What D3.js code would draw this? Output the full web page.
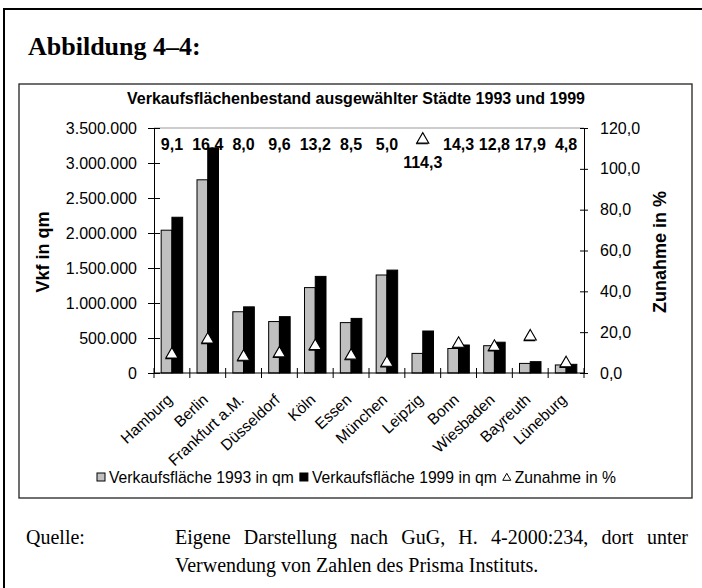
<!DOCTYPE html>
<html>
	<head>
		<meta charset="utf-8">
		<title>Abbildung 4-4</title>
		<script type="text/javascript" src="https://cdn.jsdelivr.net/npm/d3@7"></script>
		<style>
			body{margin:0;background:#fff;overflow:hidden;}
			svg{display:block;}
		</style>
	</head>
	<body>
		<script type="text/javascript">
			var categories=["Hamburg","Berlin","Frankfurt a.M.","Düsseldorf","Köln","Essen",
							"München","Leipzig","Bonn","Wiesbaden","Bayreuth","Lüneburg"];
			var vkf1993=[2040000,2760000,875000,735000,1220000,720000,1400000,280000,350000,390000,137000,115000];
			var vkf1999=[2225000,3215000,945000,805000,1380000,780000,1470000,600000,400000,440000,162000,124000];
			var zunahme=[9.1,16.4,8.0,9.6,13.2,8.5,5.0,114.3,14.3,12.8,17.9,4.8];
			var seriesNames=["Verkaufsfläche 1993 in qm","Verkaufsfläche 1999 in qm","Zunahme in %"];
			var leftTicks=[0,500000,1000000,1500000,2000000,2500000,3000000,3500000];
			var rightTicks=[0,20,40,60,80,100,120];

			var w=702;
			var h=588;
			var plot={left:154,right:584,top:128,bottom:373};

			var de=d3.formatLocale({decimal:",",thousands:".",grouping:[3],currency:["","€"]});
			var fmtQm=de.format(",d");
			var fmtPct=de.format(",.1f");

			var svg=d3.select('body').append('svg')
					  .attr('width',w)
					  .attr('height',h)
					  .style('font-family','Arial, "Liberation Sans", sans-serif');

			// outer page frame (only left/top visible)
			svg.append('rect')
			   .attr('x',4).attr('y',9)
			   .attr('width',740).attr('height',640)
			   .attr('fill','none').attr('stroke','#000').attr('stroke-width',2);

			svg.append('text')
			   .text('Abbildung 4–4:')
			   .attr('x',28).attr('y',55)
			   .attr('font-family','"Liberation Serif","Times New Roman",serif')
			   .attr('font-weight','bold')
			   .attr('font-size','26px');

			// chart box
			svg.append('rect')
			   .attr('x',19).attr('y',84)
			   .attr('width',673).attr('height',414)
			   .attr('fill','#fff').attr('stroke','#222').attr('stroke-width',1.3);

			svg.append('text')
			   .text('Verkaufsflächenbestand ausgewählter Städte 1993 und 1999')
			   .attr('x',356).attr('y',104)
			   .attr('text-anchor','middle')
			   .attr('font-weight','bold')
			   .attr('font-size','16px');

			var x0=d3.scaleBand()
					 .domain(categories)
					 .range([plot.left,plot.right])
					 .paddingInner(0.4)
					 .paddingOuter(0.2);
			var x1=d3.scaleBand()
					 .domain(['a','b'])
					 .range([0,x0.bandwidth()]);
			var yScale=d3.scaleLinear()
						 .domain([0,3500000])
						 .range([plot.bottom,plot.top]);
			var rScale=d3.scaleLinear()
						 .domain([0,120])
						 .range([plot.bottom,plot.top]);
			function center(c){
				return x0(c)+x0.bandwidth()/2;
			}

			// plot area top border
			svg.append('line')
			   .attr('x1',plot.left).attr('x2',plot.right)
			   .attr('y1',plot.top).attr('y2',plot.top)
			   .attr('stroke','#999').attr('stroke-width',1);

			// bars
			var rows=categories.map(function(c,i){
				return {cat:c,a:vkf1993[i],b:vkf1999[i],p:zunahme[i]};
			});
			svg.selectAll('rect.g93')
			   .data(rows)
			   .enter()
			   .append('rect')
			   .attr('class','g93')
			   .attr('x',function(d){return x0(d.cat)+x1('a');})
			   .attr('y',function(d){return yScale(d.a);})
			   .attr('width',x1.bandwidth())
			   .attr('height',function(d){return yScale(0)-yScale(d.a);})
			   .attr('fill','#c0c0c0')
			   .attr('stroke','#000')
			   .attr('stroke-width',1);
			svg.selectAll('rect.g99')
			   .data(rows)
			   .enter()
			   .append('rect')
			   .attr('class','g99')
			   .attr('x',function(d){return x0(d.cat)+x1('b');})
			   .attr('y',function(d){return yScale(d.b);})
			   .attr('width',x1.bandwidth())
			   .attr('height',function(d){return yScale(0)-yScale(d.b);})
			   .attr('fill','#000')
			   .attr('stroke','#000')
			   .attr('stroke-width',1);

			// axes
			var leftAxis=d3.axisLeft(yScale)
						   .tickValues(leftTicks)
						   .tickFormat(fmtQm)
						   .tickSizeInner(6)
						   .tickSizeOuter(0)
						   .tickPadding(11);
			var gl=svg.append('g')
					  .attr('transform','translate('+plot.left+',0)')
					  .call(leftAxis);
			gl.selectAll('.tick line').attr('x2',-6).attr('x1',6);

			var rightAxis=d3.axisRight(rScale)
							.tickValues(rightTicks)
							.tickFormat(fmtPct)
							.tickSizeInner(4)
							.tickSizeOuter(0)
							.tickPadding(12);
			var gr=svg.append('g')
					  .attr('transform','translate('+plot.right+',0)')
					  .call(rightAxis);
			gr.selectAll('.tick line').attr('x1',-4).attr('x2',4);

			var gb=svg.append('g')
					  .attr('transform','translate(0,'+plot.bottom+')');
			gb.append('line')
			  .attr('x1',plot.left).attr('x2',plot.right)
			  .attr('stroke','#000');
			var bounds=categories.map(function(c){return x0(c)-x0.step()*0.2;});
			bounds.push(plot.right);
			gb.selectAll('line.tk')
			  .data(bounds)
			  .enter()
			  .append('line')
			  .attr('class','tk')
			  .attr('x1',function(d){return d;})
			  .attr('x2',function(d){return d;})
			  .attr('y1',-5).attr('y2',5)
			  .attr('stroke','#000');

			[gl,gr].forEach(function(g){
				g.select('.domain').attr('stroke','#000');
				g.selectAll('.tick line').attr('stroke','#000');
				g.selectAll('.tick text')
				 .attr('font-size','16px')
				 .attr('font-family','Arial, "Liberation Sans", sans-serif')
				 .attr('fill','#000');
			});

			// category labels, rotated
			svg.selectAll('text.cat')
			   .data(categories)
			   .enter()
			   .append('text')
			   .attr('class','cat')
			   .text(function(d){return d;})
			   .attr('text-anchor','end')
			   .attr('transform',function(d){
					return 'translate('+(center(d)-6)+',393) rotate(-43)';
			   })
			   .attr('dy','0.7em')
			   .attr('font-size','15.5px');

			// triangles for Zunahme (with a small shadow)
			var tri=d3.symbol().type(d3.symbolTriangle).size(64);
			svg.selectAll('path.sh')
			   .data(rows)
			   .enter()
			   .append('path')
			   .attr('class','sh')
			   .attr('d',tri)
			   .attr('transform',function(d){
					return 'translate('+(center(d.cat)-0.8)+','+(rScale(d.p)+1.2)+')';
			   })
			   .attr('fill','#000');
			svg.selectAll('path.tri')
			   .data(rows)
			   .enter()
			   .append('path')
			   .attr('class','tri')
			   .attr('d',tri)
			   .attr('transform',function(d){
					return 'translate('+center(d.cat)+','+rScale(d.p)+')';
			   })
			   .attr('fill','#fff')
			   .attr('stroke','#000')
			   .attr('stroke-width',1.1);

			// data labels: top row, below the marker if the marker is up there
			svg.selectAll('text.lbl')
			   .data(rows)
			   .enter()
			   .append('text')
			   .attr('class','lbl')
			   .text(function(d){return fmtPct(d.p);})
			   .attr('x',function(d){return center(d.cat);})
			   .attr('y',function(d){return d.p>100 ? rScale(d.p)+28 : 150;})
			   .attr('text-anchor','middle')
			   .attr('font-weight','bold')
			   .attr('font-size','16px');

			// axis titles
			svg.append('text')
			   .text('Vkf in qm')
			   .attr('transform','translate(49,252) rotate(-90)')
			   .attr('text-anchor','middle')
			   .attr('font-weight','bold')
			   .attr('font-size','18px');
			svg.append('text')
			   .text('Zunahme in %')
			   .attr('transform','translate(666,252) rotate(-90)')
			   .attr('text-anchor','middle')
			   .attr('font-weight','bold')
			   .attr('font-size','18px');

			// legend
			var lg=svg.append('g').attr('transform','translate(97,477)');
			var lx=0;
			seriesNames.forEach(function(s,i){
				if(i<2){
					lg.append('rect')
					  .attr('x',lx).attr('y',-4)
					  .attr('width',8).attr('height',8)
					  .attr('fill',i==0?'#c0c0c0':'#000')
					  .attr('stroke','#000');
				}else{
					lg.append('path')
					  .attr('d',d3.symbol().type(d3.symbolTriangle).size(28))
					  .attr('transform','translate('+(lx+4)+',1)')
					  .attr('fill','#fff')
					  .attr('stroke','#000');
				}
				var t=lg.append('text')
						.text(s)
						.attr('x',lx+12)
						.attr('y',5.5)
						.attr('font-size','15.7px');
				lx+=12+t.node().getComputedTextLength()+6;
			});

			// source note, first line justified by widening the word gaps
			var serif='"Liberation Serif","Times New Roman",serif';
			svg.append('text')
			   .text('Quelle:')
			   .attr('x',26).attr('y',544)
			   .attr('font-family',serif)
			   .attr('font-size','20px');
			var line1=svg.append('text')
			   .text('Eigene Darstellung nach GuG, H. 4-2000:234, dort unter')
			   .attr('x',175).attr('y',544)
			   .attr('font-family',serif)
			   .attr('font-size','20px');
			var natural=line1.node().getComputedTextLength();
			line1.attr('word-spacing',((688-175-natural)/7)+'px');
			svg.append('text')
			   .text('Verwendung von Zahlen des Prisma Instituts.')
			   .attr('x',175).attr('y',572)
			   .attr('font-family',serif)
			   .attr('font-size','20px');
		</script>
	</body>
</html>
